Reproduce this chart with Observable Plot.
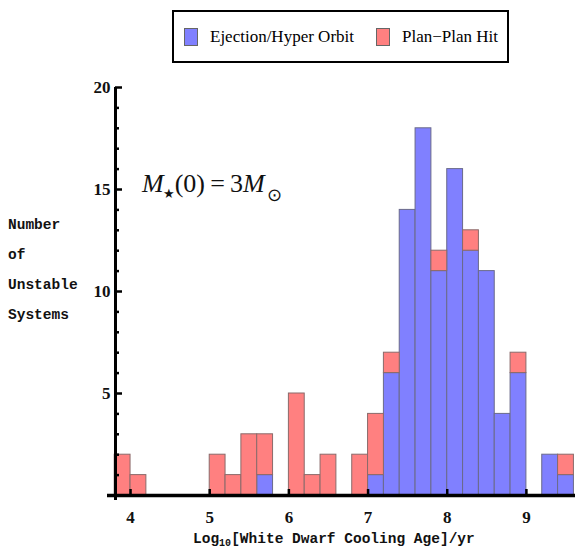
<!DOCTYPE html>
<html>
<head>
<meta charset="utf-8">
<script src="https://cdn.jsdelivr.net/npm/d3@7"></script>
<script src="https://cdn.jsdelivr.net/npm/@observablehq/plot@0.6"></script>
<style>
  html, body { margin: 0; padding: 0; background: #fff; }
  #wrap { position: relative; width: 575px; height: 560px; overflow: hidden; }
  #legend {
    position: absolute; left: 172px; top: 10px; width: 333px; height: 49px;
    border: 2px solid #000; box-sizing: content-box; background: #fff;
    font-family: "Liberation Serif", "Times New Roman", serif; font-size: 17px;
    display: flex; align-items: center; white-space: nowrap;
  }
  #legend .sw { display: inline-block; width: 12px; height: 16px; border: 1px solid #666; margin-right: 12px; }
  #legend .item { display: flex; align-items: center; }
  #ylab {
    position: absolute; left: 8px; top: 210px;
    font-family: "Liberation Mono", "Courier New", monospace; font-size: 14.5px; font-weight: bold;
    line-height: 30px; color: #111;
  }
  #xlab {
    position: absolute; left: 193px; top: 531px;
    font-family: "Liberation Mono", "Courier New", monospace; font-size: 14.5px; font-weight: bold;
    color: #111; white-space: nowrap;
  }
  #xlab sub { font-size: 10px; vertical-align: -3px; }
</style>
</head>
<body>
<div id="wrap">
  <div id="chart"></div>
  <div id="legend"></div>
  <div id="ylab"></div>
  <div id="xlab">Log<sub>10</sub>[White Dwarf Cooling Age]/yr</div>
</div>
<script>
// ---- data ----
const binStart = [3.8, 4.0, 4.2, 4.4, 4.6, 4.8, 5.0, 5.2, 5.4, 5.6, 5.8, 6.0, 6.2, 6.4, 6.6, 6.8,
                  7.0, 7.2, 7.4, 7.6, 7.8, 8.0, 8.2, 8.4, 8.6, 8.8, 9.0, 9.2, 9.4];
const binWidth = 0.2;
const ejection = [0, 0, 0, 0, 0, 0, 0, 0, 0, 1, 0, 0, 0, 0, 0, 0,
                  1, 6, 14, 18, 11, 16, 12, 11, 4, 6, 0, 2, 1];
const planHit  = [2, 1, 0, 0, 0, 0, 2, 1, 3, 2, 0, 5, 1, 2, 0, 2,
                  3, 1, 0, 0, 1, 0, 1, 0, 0, 1, 0, 0, 1];
const seriesNames = ["Ejection/Hyper Orbit", "Plan\u2212Plan Hit"];
const seriesColors = ["#8080ff", "#ff8080"];
const xTicks = [4, 5, 6, 7, 8, 9];
const yTicks = [5, 10, 15, 20];
const yMinor = d3.range(1, 20).filter(v => v % 5 !== 0);
const yLabelLines = ["Number", "of", "Unstable", "Systems"];

// ---- table ----
const rows = binStart.map((x, i) => ({x1: x, x2: x + binWidth, blue: ejection[i], red: planHit[i]}));
const blueRows = rows.filter(d => d.blue > 0);
const redRows = rows.filter(d => d.red > 0);

const xMin = 3.81, xMax = 9.62;
const pxX = (xMax - xMin) / 460; // data units per px (approx)
const pxY = 20 / 408;

const chart = Plot.plot({
  width: 575,
  height: 560,
  marginLeft: 115,
  marginRight: 0,
  marginTop: 87,
  marginBottom: 65,
  x: {domain: [xMin, xMax]},
  y: {domain: [0, 20]},
  style: {background: "white", overflow: "visible"},
  marks: [
    Plot.rect(blueRows, {x1: "x1", x2: "x2", y1: 0, y2: "blue", fill: seriesColors[0], stroke: "#6a6a8a", strokeWidth: 1}),
    Plot.rect(redRows, {x1: "x1", x2: "x2", y1: "blue", y2: d => d.blue + d.red, fill: seriesColors[1], stroke: "#8a6a6a", strokeWidth: 1}),
    Plot.axisX({ticks: xTicks, tickSize: 0, tickPadding: 15, tickFormat: d => d, label: null,
      fontFamily: "Liberation Serif, serif", fontSize: 17, fontWeight: "bold", fill: "#111"}),
    Plot.axisY({ticks: yTicks, tickSize: 0, tickPadding: 5, tickFormat: d => d, label: null,
      fontFamily: "Liberation Serif, serif", fontSize: 17, fontWeight: "bold", fill: "#111"}),
    // major y ticks (inward)
    Plot.ruleY(yTicks, {x1: xMin, x2: xMin + 7 * pxX, stroke: "#000", strokeWidth: 2.5}),
    // minor y ticks
    Plot.ruleY(yMinor, {x1: xMin, x2: xMin + 4 * pxX, stroke: "#000", strokeWidth: 2.5}),
    // x ticks (inward)
    Plot.ruleX(xTicks, {y1: -2 * pxY, y2: 6 * pxY, stroke: "#000", strokeWidth: 2.5}),
    // axis lines
    Plot.ruleX([xMin], {y1: -5 * pxY, y2: 20, stroke: "#000", strokeWidth: 3}),
    Plot.ruleY([0], {x1: xMin - 8 * pxX, x2: xMax, stroke: "#000", strokeWidth: 3.5})
  ]
});
document.getElementById("chart").appendChild(chart);

// annotation M★(0) = 3M⊙
const svg = d3.select(chart);
const t = svg.append("text")
  .attr("x", 142).attr("y", 192)
  .attr("text-anchor", "start")
  .attr("font-family", "Liberation Serif, 'Times New Roman', serif")
  .attr("font-size", 26).attr("fill", "#111");
t.append("tspan").attr("font-style", "italic").text("M");
t.append("tspan").attr("font-size", 13).attr("dy", 6).attr("dx", -1).text("\u2605");
t.append("tspan").attr("dy", -6).text("(0)\u2009=\u20093");
t.append("tspan").attr("font-style", "italic").text("M");
t.append("tspan").attr("font-size", 18).attr("dy", 9).attr("dx", 2).text("\u2299");

// legend
const leg = d3.select("#legend");
seriesNames.forEach((name, i) => {
  const it = leg.append("div").attr("class", "item")
    .style("margin-left", i === 0 ? "10px" : "22px");
  it.append("span").attr("class", "sw").style("background", seriesColors[i]);
  it.append("span").text(name);
});

// y label
const yl = d3.select("#ylab");
yLabelLines.forEach(s => yl.append("div").text(s));
</script>
</body>
</html>
